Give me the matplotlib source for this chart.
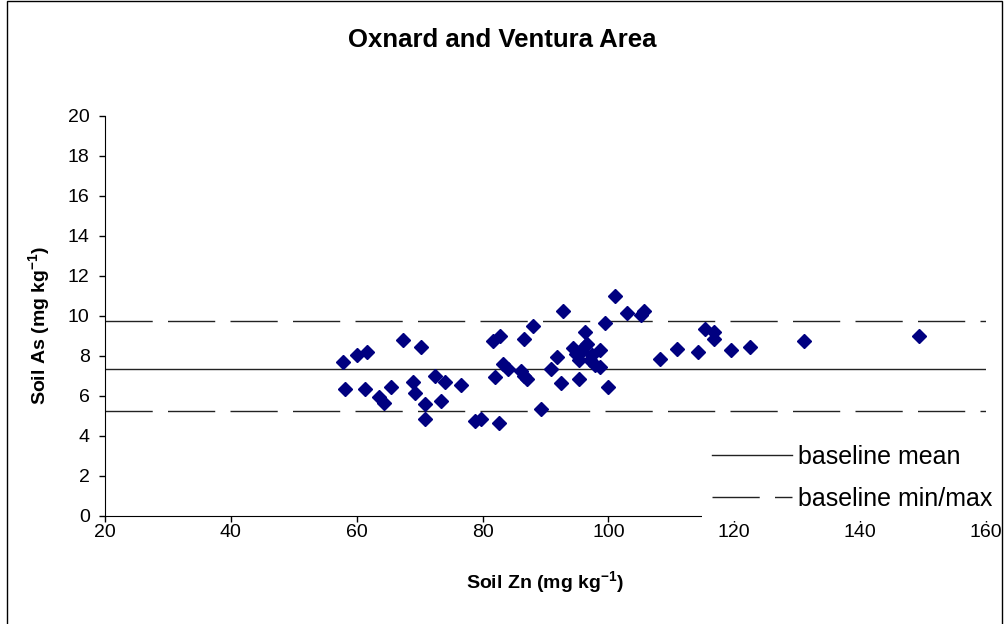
"""Soil As vs soil Zn, Oxnard and Ventura area, against baseline mean and min/max."""
import matplotlib
matplotlib.use("Agg")
import matplotlib.pyplot as plt
from matplotlib.patches import Rectangle

# soil Zn (mg/kg) and soil As (mg/kg)
zn = [57.9, 58.2, 60.0, 61.7, 61.3, 63.6, 64.3, 65.4, 67.4, 70.2,
      68.9, 69.3, 72.5, 74.1, 76.6, 70.9, 73.4, 70.9, 78.8, 79.8,
      82.6, 81.6, 82.7, 82.0, 83.3, 84.0, 86.6, 86.1, 86.6, 87.0,
      88.0, 89.3, 92.8, 90.9, 91.8, 92.4, 94.4, 95.3, 95.3, 96.3,
      96.3, 95.8, 97.4, 98.6, 97.9, 98.6, 97.1, 94.8, 96.6, 99.5,
      100.0, 101.0, 102.9, 105.1, 105.7, 108.2, 110.9, 114.3, 115.3, 116.8,
      116.8, 119.4, 122.5, 131.1, 149.3]
as_ = [7.67, 6.33, 8.05, 8.17, 6.35, 5.97, 5.63, 6.43, 8.77, 8.43,
       6.68, 6.13, 6.97, 6.67, 6.55, 5.58, 5.77, 4.85, 4.75, 4.85,
       4.67, 8.75, 8.97, 6.93, 7.58, 7.35, 8.85, 7.25, 6.97, 6.85,
       9.47, 5.35, 10.25, 7.33, 7.93, 6.63, 8.38, 7.80, 6.85, 9.17,
       8.47, 8.22, 8.05, 8.27, 7.55, 7.43, 7.80, 8.10, 8.60, 9.63,
       6.47, 10.97, 10.13, 10.05, 10.22, 7.85, 8.33, 8.17, 9.33, 9.17,
       8.83, 8.27, 8.43, 8.75, 8.97]

baseline_mean = 7.35
baseline_min = 5.27
baseline_max = 9.75

plt.rcParams["font.family"] = ["Liberation Sans", "DejaVu Sans"]
plt.rcParams["mathtext.fontset"] = "custom"
plt.rcParams["mathtext.rm"] = "Liberation Sans"
plt.rcParams["mathtext.bf"] = "Liberation Sans:bold"

W, H = 1005, 624
fig = plt.figure(figsize=(W / 100, H / 100), dpi=100)
ax = fig.add_axes([105 / W, 1 - 516 / H, (986 - 105) / W, (516 - 115.7) / H])

dash = (0, (34, 11))
ax.axhline(baseline_mean, color="#222222", lw=1.0, label="baseline mean")
ax.axhline(baseline_max, color="#222222", lw=1.0, ls=dash, label="baseline min/max")
ax.axhline(baseline_min, color="#222222", lw=1.0, ls=dash)
ax.plot(zn, as_, "D", color="#000080", ms=7.5, mec="#000080", ls="none", zorder=3)

ax.set_xlim(20, 160)
ax.set_ylim(0, 20)
ax.set_xticks(range(20, 161, 20))
ax.set_yticks(range(0, 21, 2))
for s in ("top", "right"):
    ax.spines[s].set_visible(False)
ax.tick_params(direction="out", length=4, width=1, labelsize=14)
ax.tick_params(axis="x", pad=2)
ax.tick_params(axis="y", pad=7)

ax.set_xlabel(r"Soil Zn (mg kg$^{\mathbf{-1}}$)", fontsize=14, fontweight="bold", labelpad=20)
ax.set_ylabel(r"Soil As (mg kg$^{\mathbf{-1}}$)", fontsize=14, fontweight="bold")
ax.yaxis.set_label_coords(-52 / 881, 0.477)
fig.text(0.5, 1 - 40 / H, "Oxnard and Ventura Area", ha="center", va="center",
         fontsize=18.5, fontweight="bold")

leg = ax.legend(loc="lower left", bbox_to_anchor=(702 / W, 1 - 521 / H),
                bbox_transform=fig.transFigure, fontsize=18, handlelength=3.2,
                handletextpad=0.25, labelspacing=0.72, borderpad=0.4,
                borderaxespad=0, frameon=True, fancybox=False)
leg.get_frame().set_facecolor("white")
leg.get_frame().set_edgecolor("none")
leg.get_frame().set_alpha(1)

fig.patches.append(Rectangle((7 / W, -0.01), (1002 - 7) / W, 1.01 - 1 / H,
                             transform=fig.transFigure, fill=False,
                             edgecolor="black", lw=1))

fig.savefig("out.png", dpi=100)
